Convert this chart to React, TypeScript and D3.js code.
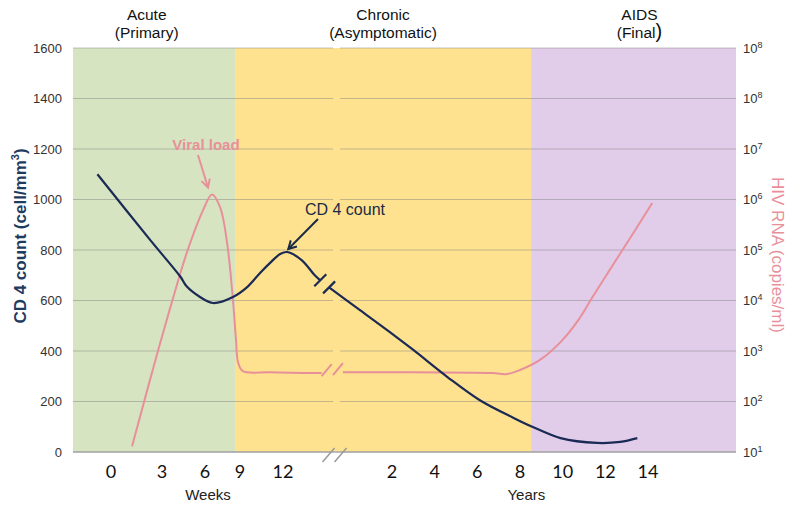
import React, { useRef, useEffect } from "react";
import * as d3 from "d3";

// left axis ticks and the labels of the right (log) axis, paired by index
const cd4Ticks = [0, 200, 400, 600, 800, 1000, 1200, 1400, 1600];
const rnaTickExps = [1, 2, 3, 4, 5, 6, 7, 8, 8];
const weekTicks = [0, 3, 6, 9, 12];
const yearTicks = [2, 4, 6, 8, 10, 12, 14];

const phaseNames = [
  ["Acute", "(Primary)"],
  ["Chronic", "(Asymptomatic)"],
  ["AIDS", "(Final"],
];
const acuteEndWeek = 8.57;
const chronicEndYear = 8.52;

// CD4 count (cells/mm3)
const cd4Weeks: [number, number][] = [
  [-0.8, 1100], [2.3, 840], [4.3, 693], [4.7, 657], [5.65, 614], [6.7, 590],
  [8.4, 614], [9.5, 653], [10.4, 709], [11.1, 749], [11.8, 784], [12.3, 792],
  [13.3, 760], [14.2, 701], [14.6, 680],
];
const cd4Years: [number, number][] = [
  [-0.95, 652], [0.5, 562], [1.9, 475], [3.0, 404], [4.6, 297], [6.1, 206],
  [7.7, 135], [8.6, 99], [9.9, 55], [11.6, 36], [12.7, 40], [13.5, 55],
];

// HIV RNA (copies/ml)
const viralWeeks: [number, number][] = [
  [1.24, 13], [2.76, 1000], [3.77, 11100], [4.74, 90000], [5.86, 610000],
  [6.6, 1260000], [7.3, 700000], [7.9, 135000], [8.4, 10000], [8.66, 1600],
  [8.83, 600], [9.2, 400], [11.1, 380], [14.7, 365],
];
const viralYears: [number, number][] = [
  [-0.3, 380], [2.4, 380], [6.7, 365], [7.4, 350], [8.0, 420], [8.9, 650],
  [9.9, 1500], [10.7, 3900], [11.4, 11700], [12.2, 40000], [13.0, 135000],
  [14.2, 850000],
];

const W = 790, H = 507;
const left = 73, right = 736, top = 48, bottom = 452;
const sans = "'Liberation Sans', Arial, sans-serif";
const navy = "#1b2a55";
const pink = "#e8909a";

export default function App() {
  const ref = useRef<SVGSVGElement>(null);

  useEffect(() => {
    const svg = d3.select(ref.current);
    svg.selectAll("*").remove();

    const y = d3.scaleLinear().domain([0, 1600]).range([bottom, top]);
    const yRna = d3.scaleLog().domain([10, 1e8]).range([bottom, y(1400)]);
    const xW = d3.scaleLinear().domain(weekTicks).range([111, 162, 205, 240, 283]);
    const xY = d3.scaleLinear().domain([2, 14]).range([392, 648]);

    const xAcuteEnd = xW(acuteEndWeek);
    const xChronicEnd = xY(chronicEndYear);
    const breakX = xY(-0.6);

    // phase backgrounds
    const bands = [
      [left, xAcuteEnd, "#d6e4c1"],
      [xAcuteEnd, xChronicEnd, "#fee28f"],
      [xChronicEnd, right, "#e1cde9"],
    ] as [number, number, string][];
    svg.append("g").selectAll("rect").data(bands).join("rect")
      .attr("x", d => d[0]).attr("y", top)
      .attr("width", d => d[1] - d[0]).attr("height", bottom - top)
      .attr("fill", d => d[2]);

    // gridlines with the break gap
    const grid = svg.append("g").attr("stroke", "#7f7f7f").attr("stroke-opacity", 0.45).attr("stroke-width", 1.2);
    cd4Ticks.forEach(t => {
      grid.append("line").attr("x1", left).attr("x2", breakX - 3.5).attr("y1", y(t)).attr("y2", y(t));
      grid.append("line").attr("x1", breakX + 3.5).attr("x2", right).attr("y1", y(t)).attr("y2", y(t));
    });
    svg.append("line").attr("x1", left).attr("x2", right).attr("y1", bottom).attr("y2", bottom)
      .attr("stroke", "#a8a8a8").attr("stroke-width", 1.5);

    // left ticks
    svg.append("g").selectAll("text").data(cd4Ticks).join("text")
      .attr("x", 62).attr("y", d => y(d)).attr("dy", "0.35em")
      .attr("text-anchor", "end").style("font", `13px ${sans}`).attr("fill", "#333")
      .text(d => d);

    // right ticks
    const rt = svg.append("g").selectAll("text").data(cd4Ticks).join("text")
      .attr("x", 743).attr("y", d => y(d)).attr("dy", "0.35em")
      .style("font", `13px ${sans}`).attr("fill", "#333");
    rt.append("tspan").text("10");
    rt.append("tspan").attr("dy", -5).style("font-size", "9px").text((d, i) => rnaTickExps[i]);

    // bottom ticks
    const tickFont = "18px Lato, 'Open Sans', sans-serif";
    svg.append("g").selectAll("text").data(weekTicks).join("text")
      .attr("x", d => xW(d)).attr("y", 478).attr("text-anchor", "middle")
      .style("font", tickFont).attr("fill", "#111").text(d => d);
    svg.append("g").selectAll("text").data(yearTicks).join("text")
      .attr("x", d => xY(d)).attr("y", 478).attr("text-anchor", "middle")
      .style("font", tickFont).attr("fill", "#111").text(d => d);

    svg.append("text").attr("x", xW(6) + 3).attr("y", 500).attr("text-anchor", "middle")
      .style("font", `15px ${sans}`).attr("fill", "#222").text("Weeks");
    svg.append("text").attr("x", xY(8.3)).attr("y", 500).attr("text-anchor", "middle")
      .style("font", `15px ${sans}`).attr("fill", "#222").text("Years");

    // axis break slashes
    const slashes = svg.append("g").attr("stroke", "#9a9a9a").attr("stroke-width", 1.5);
    [-8, 4].forEach(dx => {
      slashes.append("line")
        .attr("x1", breakX + dx - 6).attr("y1", 462)
        .attr("x2", breakX + dx + 6).attr("y2", 448);
    });

    // phase headers
    const headerX = [xW(2.1), (xAcuteEnd + xChronicEnd) / 2, xY(13.6)];
    phaseNames.forEach((p, i) => {
      svg.append("text").attr("x", headerX[i]).attr("y", 20).attr("text-anchor", "middle")
        .style("font", `15.5px ${sans}`).attr("fill", "#111").text(p[0]);
      const sub = svg.append("text").attr("x", headerX[i]).attr("y", 38).attr("text-anchor", "middle")
        .style("font", `15.5px ${sans}`).attr("fill", "#111");
      sub.append("tspan").text(p[1]);
      if (i === 2) sub.append("tspan").style("font-size", "20px").text(")");
    });

    // axis titles
    svg.append("text")
      .attr("transform", `translate(26,236) rotate(-90)`)
      .attr("text-anchor", "middle").style("font", `bold 17px ${sans}`).attr("fill", "#1f3b5e")
      .call(t => {
        t.append("tspan").text("CD 4 count (cell/mm");
        t.append("tspan").attr("dy", -7).style("font-size", "11px").text("3");
        t.append("tspan").attr("dy", 7).text(")");
      });
    svg.append("text")
      .attr("transform", `translate(772,255) rotate(90)`)
      .attr("text-anchor", "middle").style("font", `17px ${sans}`).attr("fill", pink)
      .text("HIV RNA (copies/ml)");

    // curves
    const smooth = d3.curveCatmullRom.alpha(0.5);
    const cd4LineW = d3.line<[number, number]>().x(d => xW(d[0])).y(d => y(d[1])).curve(smooth);
    const cd4LineY = d3.line<[number, number]>().x(d => xY(d[0])).y(d => y(d[1])).curve(smooth);
    const vlLineW = d3.line<[number, number]>().x(d => xW(d[0])).y(d => yRna(d[1])).curve(smooth);
    const vlLineY = d3.line<[number, number]>().x(d => xY(d[0])).y(d => yRna(d[1])).curve(smooth);

    const vl = svg.append("g").attr("fill", "none").attr("stroke", pink).attr("stroke-width", 2);
    vl.append("path").attr("d", vlLineW(viralWeeks));
    vl.append("path").attr("d", vlLineY(viralYears));
    const vEnd = viralWeeks[viralWeeks.length - 1];
    const vStart = viralYears[0];
    const ex = xW(vEnd[0]), ey = yRna(vEnd[1]);
    const sx = xY(vStart[0]), sy = yRna(vStart[1]);
    vl.append("line").attr("x1", ex).attr("y1", ey + 3).attr("x2", ex + 10).attr("y2", ey - 9);
    vl.append("line").attr("x1", sx - 10).attr("y1", sy + 3).attr("x2", sx).attr("y2", sy - 9);

    const cd = svg.append("g").attr("fill", "none").attr("stroke", navy).attr("stroke-width", 2.2);
    cd.append("path").attr("d", cd4LineW(cd4Weeks));
    cd.append("path").attr("d", cd4LineY(cd4Years));
    // break ticks across the CD4 line
    const cEnd = cd4Weeks[cd4Weeks.length - 1];
    const cStart = cd4Years[0];
    const p1 = [xW(cEnd[0]), y(cEnd[1])];
    const p2 = [xY(cStart[0]), y(cStart[1])];
    [p1, p2].forEach(p => {
      cd.append("line")
        .attr("x1", p[0] - 6).attr("y1", p[1] + 6)
        .attr("x2", p[0] + 6).attr("y2", p[1] - 6);
    });

    // annotations
    const arrow = (g: any, x1: number, y1: number, x2: number, y2: number, color: string) => {
      const a = Math.atan2(y2 - y1, x2 - x1);
      const h = 9;
      g.append("line").attr("x1", x1).attr("y1", y1).attr("x2", x2).attr("y2", y2)
        .attr("stroke", color).attr("stroke-width", 2);
      g.append("path")
        .attr("d", `M${x2 - h * Math.cos(a - 0.5)},${y2 - h * Math.sin(a - 0.5)}L${x2},${y2}L${x2 - h * Math.cos(a + 0.5)},${y2 - h * Math.sin(a + 0.5)}`)
        .attr("fill", "none").attr("stroke", color).attr("stroke-width", 2);
    };
    const peak = viralWeeks[5];
    const px = xW(peak[0]), py = yRna(peak[1]);
    svg.append("text").attr("x", px - 6).attr("y", 150).attr("text-anchor", "middle")
      .style("font", `bold 15px ${sans}`).attr("fill", pink).text("Viral load");
    arrow(svg, px - 14, 155, px - 4, py - 7, pink);

    const cPeak = cd4Weeks[11];
    const cx = xW(cPeak[0]), cy = y(cPeak[1]);
    svg.append("text").attr("x", 345).attr("y", 215).attr("text-anchor", "middle")
      .style("font", `16px ${sans}`).attr("fill", "#1a2a45").text("CD 4 count");
    arrow(svg, 318, 219, cx + 1, cy - 3, "#1a2a45");
  }, []);

  return (
    <div style={{ position: "fixed", left: 0, top: 0 }}>
      <svg ref={ref} width={W} height={H} style={{ display: "block", background: "#fff" }} />
    </div>
  );
}
